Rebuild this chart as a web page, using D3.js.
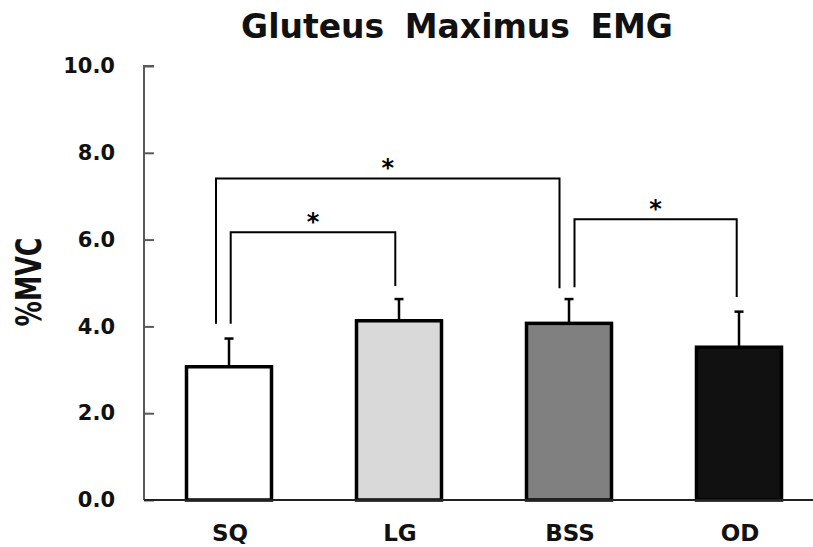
<!DOCTYPE html>
<html>
<head>
<meta charset="utf-8">
<script src="https://cdn.jsdelivr.net/npm/d3@7"></script>
<style>
  body { margin: 0; background: #fff; }
  text { font-family: "DejaVu Sans", sans-serif; font-weight: bold; }
</style>
</head>
<body>
<div id="chart"></div>
<script>
// data
var categories = ["SQ", "LG", "BSS", "OD"];
var means = [3.07, 4.13, 4.07, 3.52];
var errTops = [3.72, 4.63, 4.63, 4.34];
var fills = ["#ffffff", "#d9d9d9", "#808080", "#111111"];
var yTicks = [0, 2, 4, 6, 8, 10];

// significance brackets: from/to category, bracket level and leg ends (in %MVC)
var brackets = [
  {from: "SQ", to: "BSS", level: 7.41, leftEnd: 4.06, rightEnd: 4.88, label: "*"},
  {from: "SQ", to: "LG", level: 6.17, leftEnd: 4.06, rightEnd: 4.93, label: "*"},
  {from: "BSS", to: "OD", level: 6.47, leftEnd: 4.90, rightEnd: 4.68, label: "*"}
];
// horizontal nudge of each bracket leg from the bar centre (px)
var legShift = [[-13, -9.5], [1.7, -3.7], [5.5, -2.3]];

var w = 813, h = 547;
var svg = d3.select("#chart").append("svg")
            .attr("width", w)
            .attr("height", h);

var x = d3.scaleBand()
          .domain(categories)
          .range([144, 824])
          .paddingInner(0.5)
          .paddingOuter(0.25);

var y = d3.scaleLinear()
          .domain([0, 10])
          .range([500, 66]);

// title
svg.append("text")
   .attr("x", 457)
   .attr("y", 38)
   .attr("text-anchor", "middle")
   .attr("font-size", 33)
   .attr("word-spacing", 9)
   .attr("fill", "#111")
   .text("Gluteus Maximus EMG");

// y axis label
svg.append("text")
   .attr("transform", "translate(41,282) rotate(-90)")
   .attr("text-anchor", "middle")
   .attr("font-size", 36)
   .attr("textLength", 89)
   .attr("lengthAdjust", "spacingAndGlyphs")
   .attr("fill", "#111")
   .text("%MVC");

// y axis, ticks pointing inward
var yAxis = svg.append("g")
               .attr("transform", "translate(144,0)")
               .call(d3.axisRight(y).tickValues(yTicks).tickSize(10).tickFormat(d3.format(".1f")));
yAxis.select(".domain").attr("stroke", "#5a5a5a").attr("stroke-width", 2)
     .attr("d", "M10," + y(10) + "H0V" + y(0));
yAxis.selectAll(".tick line").attr("stroke", "#5a5a5a").attr("stroke-width", 2);
yAxis.selectAll(".tick text")
     .attr("x", -29)
     .attr("text-anchor", "end")
     .attr("font-size", 21)
     .attr("font-family", "DejaVu Sans")
     .attr("font-weight", "bold")
     .attr("fill", "#111");

// bars
svg.selectAll("rect.bar")
   .data(categories)
   .enter()
   .append("rect")
   .attr("class", "bar")
   .attr("x", function(d) { return x(d); })
   .attr("width", x.bandwidth())
   .attr("y", function(d, i) { return y(means[i]); })
   .attr("height", function(d, i) { return y(0) - y(means[i]); })
   .attr("fill", function(d, i) { return fills[i]; })
   .attr("stroke", "#000")
   .attr("stroke-width", 3.5);

// error bars (upper only)
var errs = svg.selectAll("g.err")
              .data(categories)
              .enter()
              .append("g")
              .attr("class", "err");
errs.append("line")
    .attr("x1", function(d) { return x(d) + x.bandwidth() / 2; })
    .attr("x2", function(d) { return x(d) + x.bandwidth() / 2; })
    .attr("y1", function(d, i) { return y(means[i]); })
    .attr("y2", function(d, i) { return y(errTops[i]); })
    .attr("stroke", "#000")
    .attr("stroke-width", 2.5);
errs.append("line")
    .attr("x1", function(d) { return x(d) + x.bandwidth() / 2 - 4.5; })
    .attr("x2", function(d) { return x(d) + x.bandwidth() / 2 + 4.5; })
    .attr("y1", function(d, i) { return y(errTops[i]); })
    .attr("y2", function(d, i) { return y(errTops[i]); })
    .attr("stroke", "#000")
    .attr("stroke-width", 2.5);

// x axis line and labels
svg.append("line")
   .attr("x1", 144).attr("x2", w)
   .attr("y1", y(0)).attr("y2", y(0))
   .attr("stroke", "#222")
   .attr("stroke-width", 2);

svg.selectAll("text.xlab")
   .data(categories)
   .enter()
   .append("text")
   .attr("class", "xlab")
   .attr("x", function(d) { return x(d) + x.bandwidth() / 2 + 1; })
   .attr("y", 541)
   .attr("text-anchor", "middle")
   .attr("font-size", 23)
   .attr("fill", "#111")
   .text(function(d) { return d; });

// significance brackets
var cx = function(c) { return x(c) + x.bandwidth() / 2; };
var bg = svg.selectAll("g.bracket")
            .data(brackets)
            .enter()
            .append("g")
            .attr("class", "bracket");
bg.append("path")
  .attr("d", function(d, i) {
      var x1 = cx(d.from) + legShift[i][0];
      var x2 = cx(d.to) + legShift[i][1];
      return "M" + x1 + "," + y(d.leftEnd) + "V" + y(d.level) + "H" + x2 + "V" + y(d.rightEnd);
  })
  .attr("fill", "none")
  .attr("stroke", "#000")
  .attr("stroke-width", 2);
bg.append("text")
  .attr("x", function(d, i) {
      return (cx(d.from) + legShift[i][0] + cx(d.to) + legShift[i][1]) / 2;
  })
  .attr("y", function(d) { return y(d.level) - 2; })
  .attr("text-anchor", "middle")
  .attr("font-size", 24)
  .attr("font-weight", "normal")
  .attr("fill", "#000")
  .text(function(d) { return d.label; });
</script>
</body>
</html>
